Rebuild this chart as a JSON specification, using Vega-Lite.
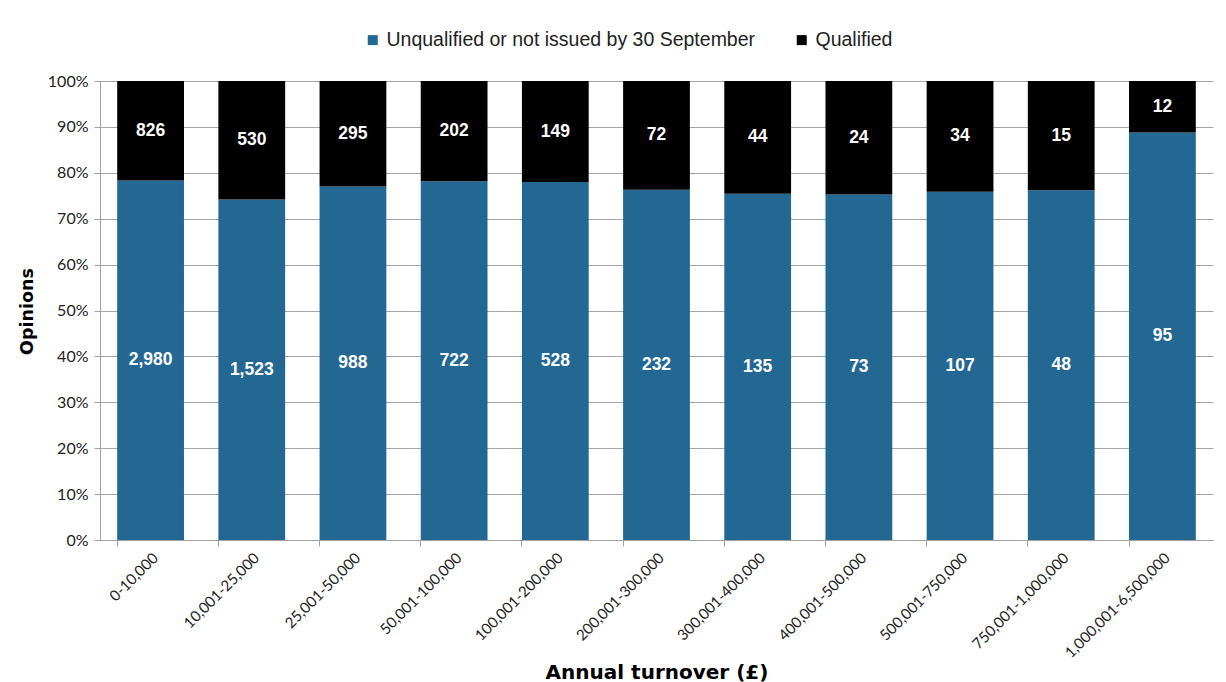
{
  "$schema": "https://vega.github.io/schema/vega-lite/v6.json",
  "autosize": "none",
  "width": 1113,
  "height": 459,
  "padding": {"left": 100, "top": 81, "right": 13, "bottom": 142},
  "background": "white",
  "data": {
    "values": [
      {"band": "0-10,000", "series": "Unqualified or not issued by 30 September", "count": 2980},
      {"band": "0-10,000", "series": "Qualified", "count": 826},
      {"band": "10,001-25,000", "series": "Unqualified or not issued by 30 September", "count": 1523},
      {"band": "10,001-25,000", "series": "Qualified", "count": 530},
      {"band": "25,001-50,000", "series": "Unqualified or not issued by 30 September", "count": 988},
      {"band": "25,001-50,000", "series": "Qualified", "count": 295},
      {"band": "50,001-100,000", "series": "Unqualified or not issued by 30 September", "count": 722},
      {"band": "50,001-100,000", "series": "Qualified", "count": 202},
      {"band": "100,001-200,000", "series": "Unqualified or not issued by 30 September", "count": 528},
      {"band": "100,001-200,000", "series": "Qualified", "count": 149},
      {"band": "200,001-300,000", "series": "Unqualified or not issued by 30 September", "count": 232},
      {"band": "200,001-300,000", "series": "Qualified", "count": 72},
      {"band": "300,001-400,000", "series": "Unqualified or not issued by 30 September", "count": 135},
      {"band": "300,001-400,000", "series": "Qualified", "count": 44},
      {"band": "400,001-500,000", "series": "Unqualified or not issued by 30 September", "count": 73},
      {"band": "400,001-500,000", "series": "Qualified", "count": 24},
      {"band": "500,001-750,000", "series": "Unqualified or not issued by 30 September", "count": 107},
      {"band": "500,001-750,000", "series": "Qualified", "count": 34},
      {"band": "750,001-1,000,000", "series": "Unqualified or not issued by 30 September", "count": 48},
      {"band": "750,001-1,000,000", "series": "Qualified", "count": 15},
      {"band": "1,000,001-6,500,000", "series": "Unqualified or not issued by 30 September", "count": 95},
      {"band": "1,000,001-6,500,000", "series": "Qualified", "count": 12}
    ]
  },
  "transform": [
    {"stack": "count", "groupby": ["band"], "sort": [{"field": "series", "order": "descending"}], "offset": "normalize", "as": ["y0", "y1"]},
    {"calculate": "(datum.y0 + datum.y1) / 2", "as": "ymid"}
  ],
  "encoding": {
    "x": {
      "field": "band",
      "type": "nominal",
      "sort": null,
      "scale": {"paddingInner": 0.34, "paddingOuter": 0.17},
      "axis": {
        "title": "Annual turnover (£)",
        "titleFont": "DejaVu Sans",
        "titleFontSize": 20,
        "titleFontWeight": "bold",
        "titleColor": "#000000",
        "titleY": 132,
        "titleBaseline": "middle",
        "labelAngle": -45,
        "labelFont": "Lato",
        "labelFontSize": 15,
        "labelColor": "#222222",
        "labelPadding": 4,
        "bandPosition": 0,
        "tickSize": 6,
        "tickColor": "#a0a0a0",
        "domainColor": "#a0a0a0",
        "grid": false
      }
    }
  },
  "layer": [
    {
      "mark": {"type": "bar"},
      "encoding": {
        "y": {
          "field": "y0",
          "type": "quantitative",
          "scale": {"domain": [0, 1], "nice": false},
          "axis": {
            "title": "Opinions",
            "titleFont": "DejaVu Sans",
            "titleFontSize": 17.5,
            "titleFontWeight": "bold",
            "titleColor": "#000000",
            "titleX": -73,
            "titleY": 230,
            "titleBaseline": "middle",
            "format": ".0%",
            "values": [0, 0.1, 0.2, 0.3, 0.4, 0.5, 0.6, 0.7, 0.8, 0.9, 1],
            "labelFont": "Lato",
            "labelFontSize": 16,
            "labelColor": "#222222",
            "labelPadding": 6,
            "tickSize": 6,
            "tickColor": "#a0a0a0",
            "domainColor": "#a0a0a0",
            "gridColor": "#a6a6a6",
            "gridWidth": 1
          }
        },
        "y2": {"field": "y1"},
        "color": {
          "field": "series",
          "type": "nominal",
          "scale": {
            "domain": ["Unqualified or not issued by 30 September", "Qualified"],
            "range": ["#236893", "#000000"]
          },
          "legend": {
            "title": null,
            "orient": "none",
            "direction": "horizontal",
            "legendX": 263,
            "legendY": -51,
            "symbolType": "square",
            "symbolSize": 100,
            "symbolStrokeWidth": 0,
            "labelFont": "Liberation Sans",
            "labelFontSize": 19.5,
            "labelColor": "#222222",
            "labelOffset": 4,
            "labelLimit": 0,
            "columnPadding": 36
          }
        }
      }
    },
    {
      "mark": {"type": "text", "color": "white", "font": "Liberation Sans", "fontSize": 17.5, "fontWeight": "bold", "baseline": "middle", "align": "center"},
      "encoding": {
        "y": {"field": "ymid", "type": "quantitative"},
        "text": {"field": "count", "type": "quantitative", "format": ",d"}
      }
    }
  ],
  "config": {
    "view": {"stroke": null}
  }
}
